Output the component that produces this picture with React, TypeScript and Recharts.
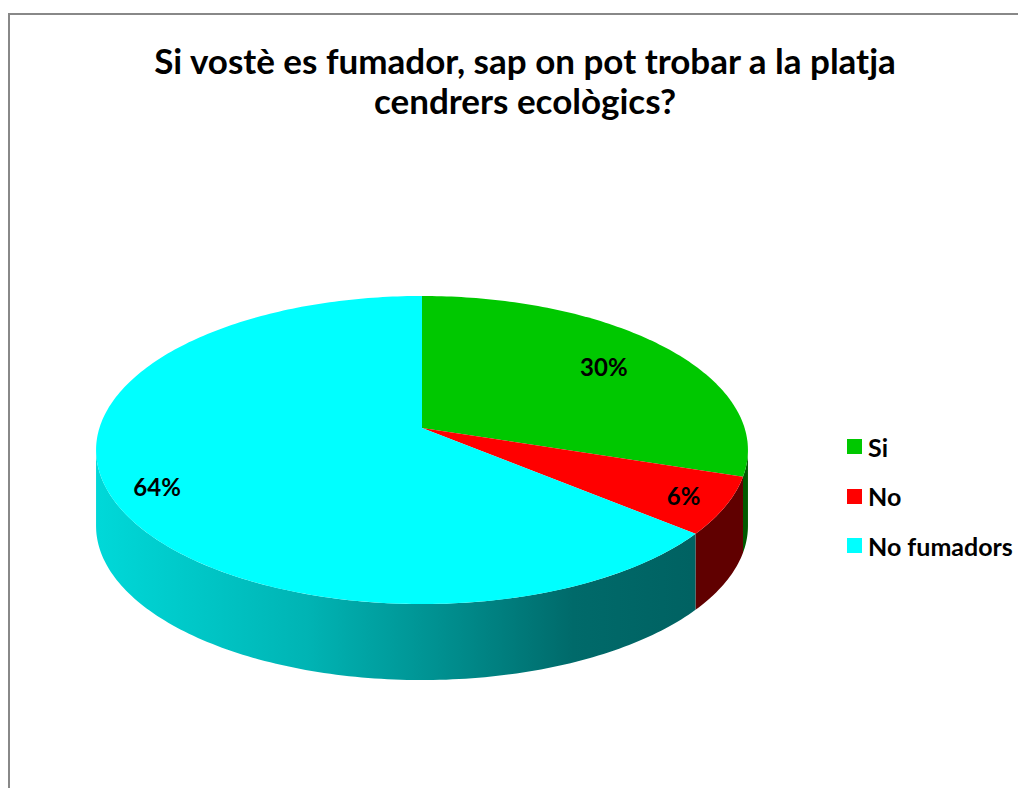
import React from 'react';
import { PieChart, Pie, Legend } from 'recharts';

const categories = ['Si', 'No', 'No fumadors'];
const shares = [30, 6, 64];
const colors = ['#00c800', '#ff0000', '#00ffff'];
const sideColors = ['#005a00', '#600000', 'url(#cyanSide)'];

const data = categories.map((name, i) => ({ name, value: shares[i] }));
const total = shares.reduce((a, b) => a + b, 0);

const FONT = 'Lato, "Open Sans", sans-serif';
const W = 1010;
const H = 780;
const CX = 414;
const CY = 420;
// perspective ellipse
const RX = 322.6;
const RY = 150.9;
const K = 0.1429;
const DEPTH = 76;
const SIL = (Math.asin(K) * 180) / Math.PI;
const LABEL_R = [0.74, 0.87, 0.86];

const project = (cx: number, cy: number, deg: number, f = 1): [number, number] => {
  const a = (deg * Math.PI) / 180;
  const u = Math.cos(a) * f;
  const v = Math.sin(a) * f;
  const s = 1 / (1 + K * v);
  return [cx + RX * u * s, cy - RY * v * s];
};

const arcPoints = (cx: number, cy: number, from: number, to: number, dy = 0) => {
  const n = Math.max(4, Math.ceil(Math.abs(to - from)));
  const pts: string[] = [];
  for (let i = 0; i <= n; i++) {
    const [x, y] = project(cx, cy, from + ((to - from) * i) / n);
    pts.push(`${x.toFixed(2)},${(y + dy).toFixed(2)}`);
  }
  return pts;
};

const Slice3D = (props: any) => {
  const { cx, cy, startAngle, endAngle, index } = props;
  const hi = Math.max(startAngle, endAngle);
  const lo = Math.min(startAngle, endAngle);
  const top = `M${cx},${cy} L${arcPoints(cx, cy, hi, lo).join(' L')} Z`;

  // front wall: visible between the two silhouette angles
  const a = Math.min(hi, -SIL);
  const b = Math.max(lo, -180 + SIL);
  let side = null;
  if (a > b) {
    const upper = arcPoints(cx, cy, a, b);
    const lower = arcPoints(cx, cy, b, a, DEPTH);
    side = <path d={`M${upper.join(' L')} L${lower.join(' L')} Z`} fill={sideColors[index]} />;
  }

  return (
    <g>
      {index === 2 && (
        <defs>
          <linearGradient id="cyanSide" gradientUnits="userSpaceOnUse" x1={CX - RX} y1={0} x2={CX + 270} y2={0}>
            <stop offset="0" stopColor="#00d8d8" />
            <stop offset="0.35" stopColor="#00b4b4" />
            <stop offset="0.6" stopColor="#008c8c" />
            <stop offset="0.8" stopColor="#006a6a" />
            <stop offset="1" stopColor="#006262" />
          </linearGradient>
        </defs>
      )}
      {side}
      <path d={top} fill={colors[index]} />
    </g>
  );
};

const renderLabel = (p: any) => {
  const [x, y] = project(p.cx, p.cy, p.midAngle, LABEL_R[p.index]);
  return (
    <text x={x} y={y} textAnchor="middle" dominantBaseline="central" fontFamily={FONT} fontWeight={700} fontSize={24} fill="#000">
      {`${Math.round((p.value / total) * 100)}%`}
    </text>
  );
};

const LegendBox = () => (
  <div style={{ fontFamily: FONT, fontWeight: 700, fontSize: 25 }}>
    {categories.map((c, i) => (
      <div key={c} style={{ display: 'flex', alignItems: 'center', height: 49.5 }}>
        <span style={{ width: 15, height: 15, background: colors[i], marginRight: 6, display: 'inline-block' }} />
        <span>{c}</span>
      </div>
    ))}
  </div>
);

export default function App() {
  return (
    <div style={{ position: 'relative', width: W, height: H, overflow: 'hidden', fontFamily: FONT }}>
      <div
        style={{
          position: 'absolute',
          left: 0,
          top: 5,
          width: 2000,
          height: 2000,
          borderLeft: '2px solid #888',
          borderTop: '2px solid #888',
        }}
      />
      <div
        style={{
          position: 'absolute',
          left: 17,
          top: 32,
          width: 1000,
          textAlign: 'center',
          fontWeight: 700,
          fontSize: 35,
          lineHeight: '40px',
          color: '#000',
        }}
      >
        <div>Si vostè es fumador, sap on pot trobar a la platja</div>
        <div>cendrers ecològics?</div>
      </div>
      <div style={{ position: 'absolute', left: 0, top: 0 }}>
        <PieChart width={W} height={H} margin={{ top: 0, right: 0, bottom: 0, left: 0 }}>
          <Pie
            data={data}
            dataKey="value"
            nameKey="name"
            cx={CX}
            cy={CY}
            outerRadius={RX}
            startAngle={90}
            endAngle={-270}
            stroke="none"
            isAnimationActive={false}
            shape={Slice3D}
            activeShape={Slice3D}
            inactiveShape={Slice3D}
            label={renderLabel}
            labelLine={false}
          />
          <Legend content={LegendBox} wrapperStyle={{ left: 839, top: 414, width: 180 }} />
        </PieChart>
      </div>
    </div>
  );
}
